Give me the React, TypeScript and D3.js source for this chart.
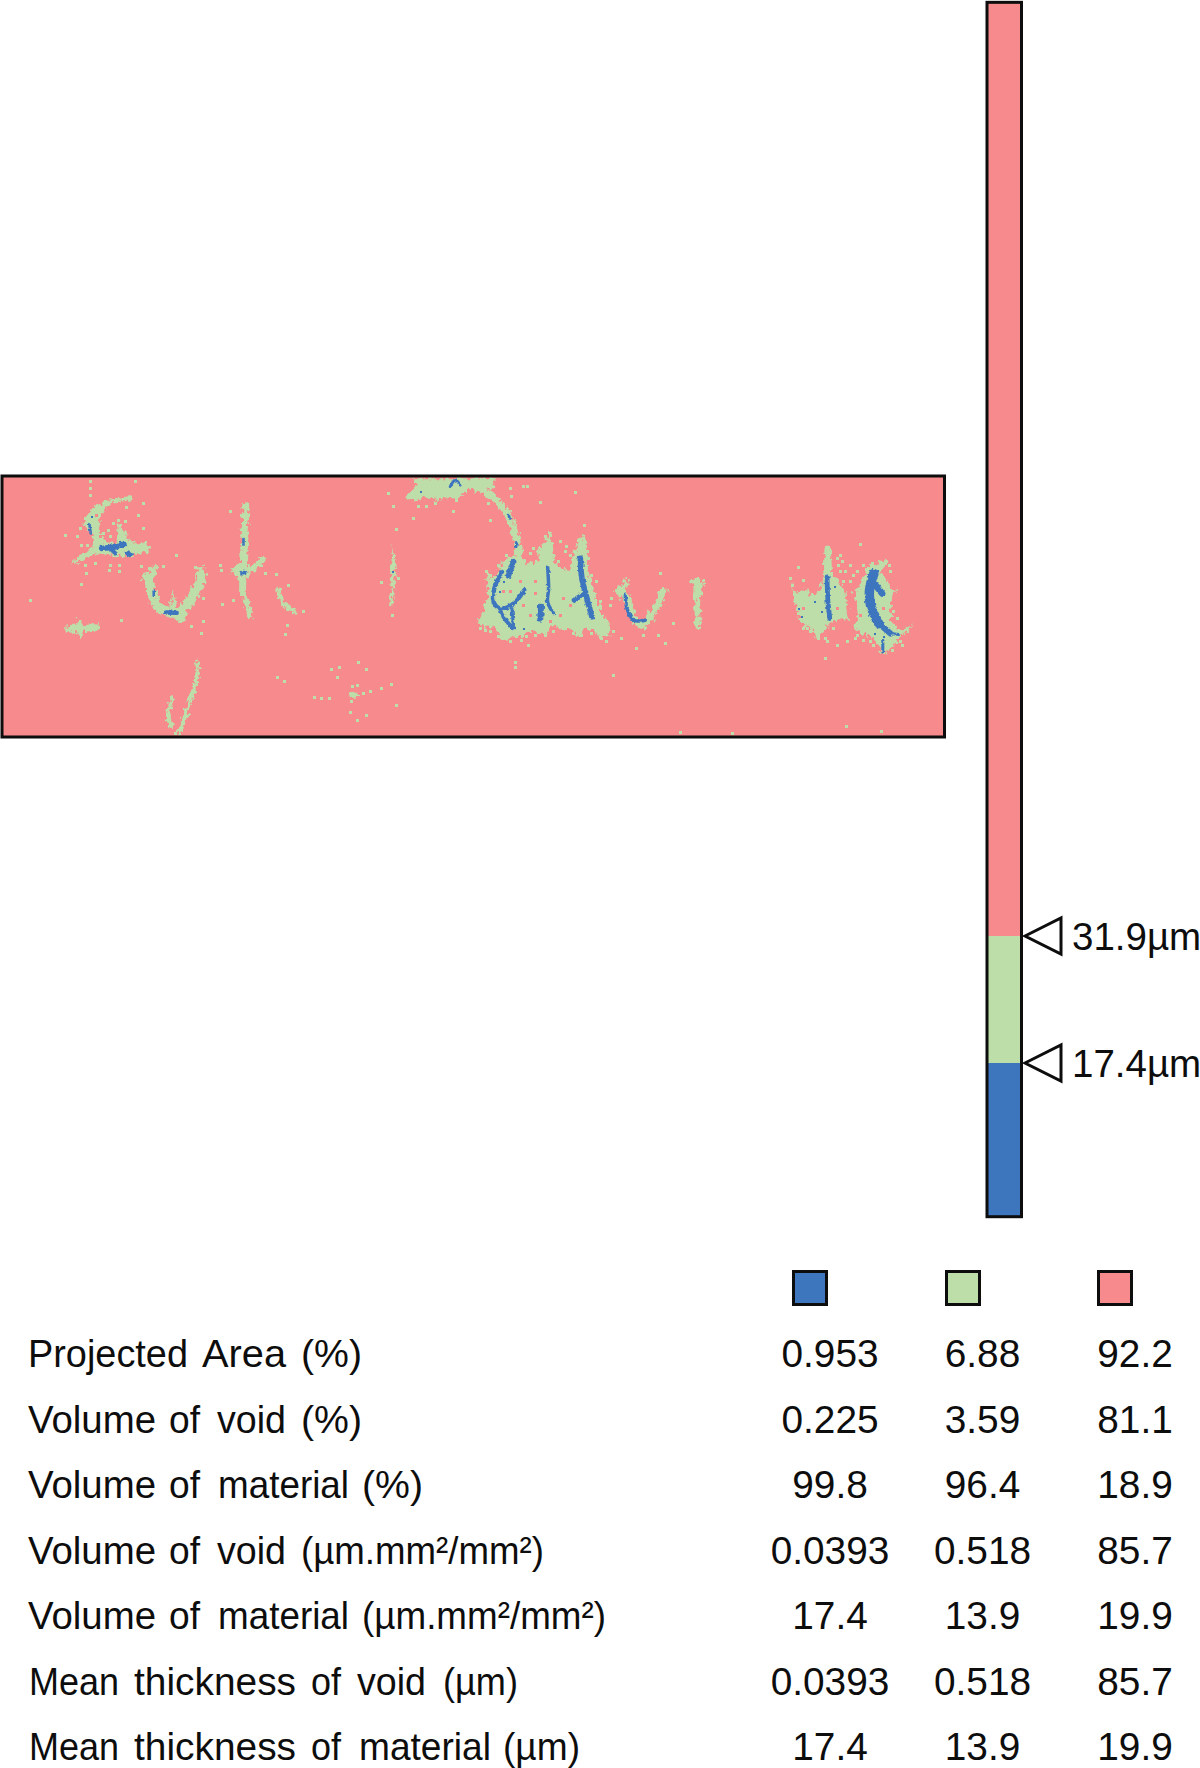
import React from "react";
import * as d3 from "d3";

// Map positions are read in a surface grid of 2826 x 782 units.
type Pt = [number, number];
type Stroke = { w: number; p: Pt[] };

const rows = [
  "Projected Area (%)",
  "Volume of void (%)",
  "Volume of material (%)",
  "Volume of void (µm.mm²/mm²)",
  "Volume of material (µm.mm²/mm²)",
  "Mean thickness of void (µm)",
  "Mean thickness of material (µm)",
];
const blueValues = ["0.953", "0.225", "99.8", "0.0393", "17.4", "0.0393", "17.4"];
const greenValues = ["6.88", "3.59", "96.4", "0.518", "13.9", "0.518", "13.9"];
const redValues = ["92.2", "81.1", "18.9", "85.7", "19.9", "85.7", "19.9"];

const thresholds = [31.9, 17.4];
const heightMin = -0.15;
const heightMax = 138.5;

const PINK = "#F68A8C";
const GREEN = "#BDDEA8";
const BLUE = "#3E76BE";
const INK = "#0d0d0d";

// word layout of the row labels: [start, width] for each word
const wordBoxes: [number, number][][] = [
  [[28, 160], [202, 84], [301, 61]],
  [[28, 128], [169, 31], [217, 69], [301, 61]],
  [[28, 128], [169, 31], [218, 131], [362, 61]],
  [[28, 128], [169, 31], [217, 69], [301, 243]],
  [[28, 128], [169, 31], [218, 131], [362, 244]],
  [[29, 90], [134, 162], [311, 30], [357, 69], [443, 75]],
  [[29, 90], [134, 162], [311, 30], [359, 132], [503, 77]],
];

const greenPatchesA: Pt[][] = [
  [[215,290],[240,270],[262,255],[275,250],[285,225],[265,190],[250,175],[262,150],[275,130],[300,118],[320,105],[350,100],[395,92],[398,106],[340,112],[318,130],[296,165],[300,200],[320,235],[350,235],[352,190],[355,170],[370,190],[385,225],[420,235],[440,225],[448,265],[420,262],[385,275],[340,270],[290,265],[255,280],[225,297]],
  [[1210,100],[1232,82],[1250,60],[1240,40],[1480,40],[1480,70],[1400,75],[1385,95],[1370,105],[1350,95],[1310,105],[1290,95],[1250,105]],
  [[505,440],[518,378],[532,440]],
  [[532,438],[562,438],[550,476],[536,472]],
  [[1170,320],[1178,238],[1188,320],[1178,400]],
];
const greenPatchesB: Pt[][] = [
  [[22,470],[38,435],[45,410],[55,390],[45,315],[68,345],[85,310],[100,285],[125,275],[145,265],[170,295],[190,290],[205,290],[205,245],[225,230],[238,198],[248,240],[252,290],[275,310],[300,315],[312,260],[340,205],[352,240],[348,300],[365,360],[380,400],[395,450],[415,465],[418,515],[385,515],[370,495],[345,490],[325,515],[300,490],[280,495],[250,480],[225,510],[190,495],[150,512],[130,515],[105,528],[85,505],[70,485],[40,485]],
  [[960,335],[970,375],[985,385],[1005,370],[1020,395],[1050,370],[1060,335],[1062,250],[1082,252],[1085,330],[1105,345],[1125,380],[1135,465],[1115,460],[1085,470],[1065,490],[1040,520],[1020,485],[1000,485],[975,420]],
  [[1150,380],[1175,350],[1190,300],[1215,300],[1248,280],[1252,292],[1225,320],[1250,345],[1260,370],[1282,375],[1260,400],[1262,470],[1290,495],[1334,476],[1290,512],[1270,540],[1240,572],[1220,530],[1190,510],[1150,490],[1165,440]],
];
const greenStrokesA: Stroke[] = [
  { w: 22, p: [[440,335],[455,380],[470,420],[500,440],[535,445],[570,405],[600,350],[603,320]] },
  { w: 12, p: [[465,310],[450,345]] },
  { w: 16, p: [[737,122],[735,200],[730,290],[727,385]] },
  { w: 12, p: [[735,400],[750,452]] },
  { w: 13, p: [[700,315],[735,320],[790,282]] },
  { w: 30, p: [[715,315],[730,318]] },
  { w: 11, p: [[835,375],[850,415],[885,442]] },
  { w: 15, p: [[205,493],[292,487]] },
  { w: 8, p: [[238,465],[245,510]] },
  { w: 10, p: [[593,592],[590,640],[565,720],[540,798]] },
  { w: 10, p: [[518,700],[505,740],[512,785]] },
  { w: 8, p: [[1178,380],[1172,415]] },
  { w: 7, p: [[1050,692],[1075,687]] },
];
const greenStrokesB: Stroke[] = [
  { w: 16, p: [[0,60],[60,90],[100,130],[130,190],[145,260],[145,290]] },
  { w: 17, p: [[445,375],[470,400],[490,460],[515,480],[550,440],[580,380]] },
  { w: 12, p: [[465,350],[460,400]] },
  { w: 13, p: [[680,350],[682,480]] },
  { w: 8, p: [[662,350],[698,350]] },
  { w: 10, p: [[692,350],[688,385]] },
  { w: 9, p: [[1072,250],[1072,340]] },
];
const blueStrokesA: Stroke[] = [
  { w: 13, p: [[305,250],[350,245]] },
  { w: 9, p: [[330,250],[347,265]] },
  { w: 12, p: [[363,238],[372,238]] },
  { w: 12, p: [[382,263],[390,268]] },
  { w: 6, p: [[268,178],[272,205]] },
  { w: 6, p: [[730,222],[730,240]] },
  { w: 11, p: [[727,324],[732,324]] },
  { w: 6, p: [[461,378],[461,392]] },
  { w: 10, p: [[498,442],[530,443]] },
  { w: 7, p: [[1350,65],[1365,45],[1380,60]] },
];
const blueStrokesB: Stroke[] = [
  { w: 13, p: [[130,290],[115,330]] },
  { w: 10, p: [[95,320],[72,370],[70,410],[90,430],[130,415],[162,375]] },
  { w: 9, p: [[90,440],[110,470],[130,490]] },
  { w: 7, p: [[125,430],[130,490]] },
  { w: 8, p: [[232,305],[235,370],[232,410],[250,445]] },
  { w: 14, p: [[212,425],[210,460]] },
  { w: 13, p: [[330,280],[335,340],[350,400],[365,455]] },
  { w: 12, p: [[312,405],[335,390]] },
  { w: 8, p: [[465,390],[470,430],[490,465],[525,465]] },
  { w: 11, p: [[1070,335],[1072,400],[1078,460]] },
  { w: 22, p: [[1210,325],[1197,375],[1200,420],[1225,475]] },
  { w: 14, p: [[1225,475],[1260,505]] },
  { w: 7, p: [[1260,505],[1285,508]] },
  { w: 15, p: [[1215,360],[1235,385]] },
  { w: 7, p: [[1237,525],[1237,560]] },
  { w: 6, p: [[116,150],[118,160]] },
  { w: 6, p: [[138,232],[138,245]] },
];

const greenSpecksA: Pt[] = [[272,50],[272,70],[272,90],[405,48],[255,160],[240,190],[232,215],[245,240],[262,240],[195,212],[380,128],[415,150],[430,190],[430,115],[375,170],[355,165],[285,295],[255,300],[258,325],[245,358],[330,300],[328,315],[358,300],[358,318],[425,305],[490,305],[528,272],[90,405],[365,467],[448,310],[585,308],[600,325],[612,350],[610,400],[610,470],[605,505],[575,483],[665,315],[660,300],[690,140],[668,418],[700,405],[795,326],[830,328],[865,360],[910,440],[863,482],[857,508],[833,637],[852,650],[1018,606],[1013,636],[995,612],[1075,593],[1100,613],[1057,663],[1073,660],[1090,685],[1112,680],[1145,670],[1175,658],[1060,690],[942,697],[965,700],[988,700],[1055,710],[1190,720],[1050,742],[1100,750],[1073,765],[527,805],[1190,193],[1180,125],[1165,85],[1240,160],[1145,352],[1195,340],[1178,452],[1255,125],[1280,125],[1305,115],[1360,138],[1370,105],[310,205],[330,215],[340,175],[325,195]];
const greenSpecksB: Pt[] = [[120,70],[125,95],[160,65],[172,65],[210,112],[315,82],[60,165],[55,115],[342,182],[270,228],[290,245],[135,592],[135,608],[430,630],[498,550],[175,540],[155,525],[570,325],[425,400],[422,420],[608,475],[565,510],[585,535],[455,520],[518,510],[630,803],[785,805],[1127,785],[1232,800],[985,308],[1000,345],[1170,238],[1110,270],[1105,300],[1125,320],[1140,300],[1160,320],[1065,580],[1100,540],[1130,530],[1155,520],[1066,520],[1045,510],[1010,490],[1295,540],[1258,300],[1090,380],[1020,470],[30,490],[45,495],[60,500],[85,515],[120,530],[140,515],[170,515],[195,510],[225,510],[250,500],[285,490],[310,505],[335,510],[365,505],[395,520],[410,530],[430,500],[60,330],[50,320],[85,300],[110,270],[135,265],[180,265],[190,250],[205,260],[225,215],[240,210],[265,290],[285,260],[300,270],[325,225],[355,280],[365,330],[380,350],[390,410],[405,465],[960,340],[965,360],[975,395],[985,445],[1000,490],[1020,500],[1040,505],[1045,520],[1070,530],[1090,490],[1115,290],[1110,320],[1120,350],[1140,350],[1150,330],[1180,300],[1205,295],[1260,320],[1270,440],[1280,460],[1160,510],[1180,525],[1200,530],[1210,540],[1265,555],[1290,530],[1080,260],[1100,280]];
const pinkSpecksA: Pt[] = [[300,190],[320,180],[340,200],[300,215],[330,150],[345,135],[290,150]];
const pinkSpecksB: Pt[] = [[150,350],[160,420],[195,350],[195,385],[180,450],[280,400],[300,420],[120,380],[100,380],[270,450],[240,470],[1100,430],[1240,430],[1275,450],[1170,450],[1000,430]];
const blueSpecksA: Pt[] = [[275,155],[1262,80],[1178,320]];
const blueSpecksB: Pt[] = [[90,380],[100,350],[160,490],[130,475],[985,430],[995,455],[1035,410],[1055,440],[1095,365],[1240,515],[1215,505]];

// Second half of the surface is read with its own horizontal origin.
const shift = 1410;
const movePts = (ps: Pt[]): Pt[] => ps.map(([x, y]) => [x + shift, y]);
const moveStrokes = (ss: Stroke[]): Stroke[] => ss.map((s) => ({ w: s.w, p: movePts(s.p) }));

const x = d3.scaleLinear().domain([6, 2832]).range([2, 944.5]);
const y = d3.scaleLinear().domain([33, 815]).range([476, 737]);
const unit = (x(1) - x(0)) * 1.3;
const barY = d3.scaleLinear().domain([thresholds[0], thresholds[1]]).range([936, 1063]);
const rowY = d3.scaleLinear().domain([0, 6]).range([1367, 1760]);

const linePath = d3.line<Pt>().x((d) => x(d[0])).y((d) => y(d[1])).curve(d3.curveCatmullRom.alpha(0.5));
const polyPath = d3.line<Pt>().x((d) => x(d[0])).y((d) => y(d[1])).curve(d3.curveLinearClosed);

const Patches = ({ data }: { data: Pt[][] }) => (
  <g fill={GREEN}>{data.map((p, i) => <path key={i} d={polyPath(p) || ""} />)}</g>
);
const Strokes = ({ data, color }: { data: Stroke[]; color: string }) => (
  <g fill="none" stroke={color} strokeLinecap="round" strokeLinejoin="round">
    {data.map((s, i) => <path key={i} d={linePath(s.p) || ""} strokeWidth={s.w * unit} />)}
  </g>
);
const Specks = ({ data, color, size }: { data: Pt[]; color: string; size: number }) => (
  <g fill={color} shapeRendering="crispEdges">
    {data.map((d, i) => (
      <rect key={i} x={x(d[0]) - size / 2} y={y(d[1]) - size / 2} width={size} height={size} />
    ))}
  </g>
);

const font = "'Liberation Sans', Arial, sans-serif";
const columns = [
  { color: BLUE, values: blueValues, swatch: 792, center: 830 },
  { color: GREEN, values: greenValues, swatch: 945, center: 982.5 },
  { color: PINK, values: redValues, swatch: 1097, center: 1135 },
];

export default function App() {
  const bands = [
    { from: heightMax, to: thresholds[0], color: PINK },
    { from: thresholds[0], to: thresholds[1], color: GREEN },
    { from: thresholds[1], to: heightMin, color: BLUE },
  ];
  const frame = { x: x(6), y: y(33), width: x(2832) - x(6), height: y(815) - y(33) };
  return (
    <svg
      width={1200}
      height={1768}
      viewBox="0 0 1200 1768"
      style={{ position: "absolute", left: 0, top: 0, display: "block", background: "#fff" }}
      fontFamily={font}
    >
      <defs>
        <clipPath id="mapClip">
          <rect {...frame} />
        </clipPath>
        <filter id="roughG" x="-5%" y="-20%" width="110%" height="140%">
          <feTurbulence type="fractalNoise" baseFrequency="0.28 0.22" numOctaves={2} seed={4} result="n" />
          <feDisplacementMap in="SourceGraphic" in2="n" scale={9} xChannelSelector="R" yChannelSelector="G" />
        </filter>
        <filter id="roughB" x="-5%" y="-20%" width="110%" height="140%">
          <feTurbulence type="fractalNoise" baseFrequency="0.3" numOctaves={2} seed={9} result="n" />
          <feDisplacementMap in="SourceGraphic" in2="n" scale={3.5} xChannelSelector="G" yChannelSelector="R" />
        </filter>
      </defs>

      <rect {...frame} fill={PINK} />
      <g clipPath="url(#mapClip)">
        <g filter="url(#roughG)">
          <Patches data={greenPatchesA} />
          <Patches data={greenPatchesB.map(movePts)} />
          <Strokes data={greenStrokesA} color={GREEN} />
          <Strokes data={moveStrokes(greenStrokesB)} color={GREEN} />
        </g>
        <Specks data={greenSpecksA} color={GREEN} size={3} />
        <Specks data={movePts(greenSpecksB)} color={GREEN} size={3} />
        <Specks data={pinkSpecksA} color={PINK} size={3} />
        <Specks data={movePts(pinkSpecksB)} color={PINK} size={3} />
        <g filter="url(#roughB)">
          <Strokes data={blueStrokesA} color={BLUE} />
          <Strokes data={moveStrokes(blueStrokesB)} color={BLUE} />
        </g>
        <Specks data={blueSpecksA} color={BLUE} size={2} />
        <Specks data={movePts(blueSpecksB)} color={BLUE} size={2} />
      </g>
      <rect {...frame} fill="none" stroke={INK} strokeWidth={3} />

      {bands.map((b) => (
        <rect key={b.color} x={987} y={barY(b.from)} width={34.5} height={barY(b.to) - barY(b.from)} fill={b.color} />
      ))}
      <rect x={987} y={barY(heightMax)} width={34.5} height={barY(heightMin) - barY(heightMax)} fill="none" stroke={INK} strokeWidth={3} />

      {thresholds.map((t) => (
        <g key={t}>
          <path
            d={`M1025,${barY(t)}L1061,${barY(t) - 18}L1061,${barY(t) + 18}Z`}
            fill="#fff"
            stroke={INK}
            strokeWidth={3}
          />
          <text x={1072} y={barY(t) + 14} fontSize={38.5} fill={INK}>{`${t.toFixed(1)}µm`}</text>
        </g>
      ))}

      {columns.map((c) => (
        <g key={c.color}>
          <rect x={c.swatch + 1.5} y={1271.5} width={33} height={33} fill={c.color} stroke={INK} strokeWidth={3} />
          {c.values.map((v, i) => (
            <text key={i} x={c.center} y={rowY(i)} fontSize={38.8} textAnchor="middle" fill={INK}>{v}</text>
          ))}
        </g>
      ))}

      {rows.map((r, i) => (
        <g key={r}>
          {r.split(" ").map((word, j) => (
            <text
              key={j}
              x={wordBoxes[i][j][0]}
              y={rowY(i)}
              fontSize={39}
              fill={INK}
              textLength={wordBoxes[i][j][1]}
              lengthAdjust="spacingAndGlyphs"
            >
              {word}
            </text>
          ))}
        </g>
      ))}
    </svg>
  );
}
